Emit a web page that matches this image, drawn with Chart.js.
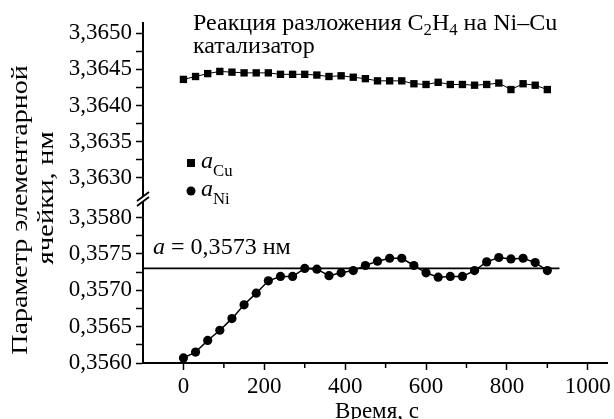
<!DOCTYPE html>
<html>
<head>
<meta charset="utf-8">
<script src="https://cdn.jsdelivr.net/npm/chart.js@4/dist/chart.umd.min.js"></script>
<style>
  html, body { margin: 0; padding: 0; background: #fff; }
  #wrap { width: 614px; height: 419px; }
</style>
</head>
<body>
<div id="wrap"><canvas id="c" width="614" height="419"></canvas></div>
<script>
// ---- data ----
const timeValues = [0,30,60,90,120,150,180,210,240,270,300,330,360,390,420,450,480,510,540,570,600,630,660,690,720,750,780,810,840,870,900];
const cuValues = [3.36436,3.36440,3.36444,3.36447,3.36446,3.36445,3.36445,3.36445,3.36443,3.36443,3.36443,3.36442,3.36440,3.36441,3.36439,3.36437,3.36434,3.36434,3.36434,3.36430,3.36429,3.36432,3.36429,3.36429,3.36428,3.36429,3.36431,3.36422,3.36430,3.36428,3.36422];
const niValues = [0.35607,0.35615,0.35631,0.35645,0.35661,0.35680,0.35696,0.35713,0.35719,0.35719,0.35730,0.35729,0.35720,0.35724,0.35727,0.35734,0.35740,0.35744,0.35744,0.35734,0.35724,0.35718,0.35719,0.35719,0.35727,0.35739,0.35745,0.35743,0.35744,0.35738,0.35727];
const refValue = 0.3573;
const refSpan = [-100, 930];

const xTicks = [0,200,400,600,800,1000];
const xTickLabels = ['0','200','400','600','800','1000'];
const xMinorTicks = [100,300,500,700,900];
const yCuTicks = [3.3630,3.3635,3.3640,3.3645,3.3650];
const yCuTickLabels = ['3,3630','3,3635','3,3640','3,3645','3,3650'];
const yCuMinorTicks = [3.36325,3.36375,3.36425,3.36475];
const yNiTicks = [0.3560,0.3565,0.3570,0.3575,0.3580];
const yNiTickLabels = ['0,3560','0,3565','0,3570','0,3575','3,3580'];
const yNiMinorTicks = [0.35625,0.35675,0.35725,0.35775];

const titleLine2 = 'катализатор';
const yTitle1 = 'Параметр элементарной';
const yTitle2 = 'ячейки, нм';
const xTitle = 'Время, с';

// ---- helpers ----
const FONT = '"Liberation Serif", "Times New Roman", serif';
const F = (s, style) => (style ? style + ' ' : '') + s + 'px ' + FONT;

function findLabel(v, ticks, labels) {
  for (let i = 0; i < ticks.length; i++) if (Math.abs(v - ticks[i]) < 1e-9) return labels[i];
  return '';
}
function setTicks(list) {
  return function (scale) { scale.ticks = list.slice().sort((a,b)=>a-b).map(v => ({ value: v })); };
}
function drawRuns(ctx, x, y, runs, sx) {
  ctx.save();
  ctx.translate(x, y);
  ctx.scale(sx || 1, 1);
  let cx = 0;
  for (const r of runs) {
    ctx.font = r.font;
    ctx.fillText(r.t, cx, r.dy || 0);
    cx += ctx.measureText(r.t).width;
  }
  ctx.restore();
}
function drawRotated(ctx, text, x, y, font, sx) {
  ctx.save();
  ctx.translate(x, y);
  ctx.rotate(-Math.PI / 2);
  ctx.scale(sx, 1);
  ctx.font = font;
  ctx.textAlign = 'center';
  ctx.fillText(text, 0, 0);
  ctx.restore();
}

const commonGrid = { display: true, drawOnChartArea: false, drawTicks: true, tickLength: 7, tickWidth: 1.5, tickColor: '#000' };
const commonBorder = { display: true, color: '#000', width: 2 };
const tickFont = { family: FONT, size: 23 };
const SX = 1.045;

const textPlugin = {
  id: 'texts',
  afterDraw(chart) {
    const ctx = chart.ctx;
    ctx.save();
    ctx.fillStyle = '#000';
    ctx.textAlign = 'left';
    ctx.textBaseline = 'alphabetic';
    // title
    drawRuns(ctx, 193, 30, [
      { t: 'Реакция разложения C', font: F(23) },
      { t: '2', font: F(16), dy: 5 },
      { t: 'H', font: F(23) },
      { t: '4', font: F(16), dy: 5 },
      { t: ' на Ni–Cu', font: F(23) }
    ], SX);
    drawRuns(ctx, 193, 53, [{ t: titleLine2, font: F(23) }], SX);
    // legend
    ctx.fillRect(187, 159, 8, 8);
    drawRuns(ctx, 201, 168, [{ t: 'a', font: F(23, 'italic') }, { t: 'Cu', font: F(16), dy: 8 }], SX);
    ctx.beginPath(); ctx.arc(191, 191, 4.5, 0, Math.PI * 2); ctx.fill();
    drawRuns(ctx, 201, 196, [{ t: 'a', font: F(23, 'italic') }, { t: 'Ni', font: F(16), dy: 8 }], SX);
    // reference label
    drawRuns(ctx, 153, 254, [{ t: 'a', font: F(23, 'italic') }, { t: ' = 0,3573 нм', font: F(23) }], SX);
    // x title
    ctx.font = F(23);
    ctx.textAlign = 'center';
    ctx.fillText(xTitle, 377, 418);
    ctx.textAlign = 'left';
    // y title
    drawRotated(ctx, yTitle1, 27, 210, F(23), 1.22);
    drawRotated(ctx, yTitle2, 53, 198, F(23), 1.25);
    // axis break
    const yb = chart.scales.yNi.top;
    const xa = chart.scales.yNi.right;
    ctx.fillStyle = '#fff';
    ctx.beginPath();
    ctx.moveTo(xa - 6, yb + 3); ctx.lineTo(xa + 6, yb - 6);
    ctx.lineTo(xa + 6, yb - 1); ctx.lineTo(xa - 6, yb + 8);
    ctx.closePath(); ctx.fill();
    ctx.strokeStyle = '#000'; ctx.lineWidth = 1.8;
    ctx.beginPath();
    ctx.moveTo(xa - 6, yb + 3); ctx.lineTo(xa + 6, yb - 6);
    ctx.moveTo(xa - 6, yb + 8); ctx.lineTo(xa + 6, yb - 1);
    ctx.stroke();
    // minor x ticks (shorter)
    const xs = chart.scales.x;
    ctx.lineWidth = 1.5;
    ctx.beginPath();
    for (const v of xMinorTicks) {
      const px = xs.getPixelForValue(v);
      ctx.moveTo(px, xs.top); ctx.lineTo(px, xs.top + 5);
    }
    ctx.stroke();
    ctx.restore();
  }
};

new Chart(document.getElementById('c'), {
  type: 'line',
  data: {
    datasets: [
      {
        label: 'ref',
        data: refSpan.map(x => ({ x, y: refValue })),
        yAxisID: 'yNi',
        borderColor: '#000', borderWidth: 1.6, pointRadius: 0, fill: false
      },
      {
        label: 'aCu',
        data: timeValues.map((x, i) => ({ x, y: cuValues[i] })),
        yAxisID: 'yCu',
        borderColor: '#000', borderWidth: 1, backgroundColor: '#000',
        pointStyle: 'rect', pointRadius: 5.2, pointBorderWidth: 0, fill: false, clip: false
      },
      {
        label: 'aNi',
        data: timeValues.map((x, i) => ({ x, y: niValues[i] })),
        yAxisID: 'yNi',
        borderColor: '#000', borderWidth: 1.5, backgroundColor: '#000',
        pointStyle: 'circle', pointRadius: 4.6, pointBorderWidth: 0, fill: false, clip: false
      }
    ]
  },
  options: {
    responsive: false,
    animation: false,
    layout: { padding: { top: 23, right: 5, left: 0, bottom: 0 } },
    plugins: { legend: { display: false }, tooltip: { enabled: false }, title: { display: false } },
    elements: { line: { tension: 0 } },
    scales: {
      x: {
        type: 'linear', position: 'bottom', min: -100, max: 1050,
        afterBuildTicks: setTicks(xTicks),
        afterFit(s) { s.height = 56; },
        ticks: { autoSkip: false, maxRotation: 0, padding: 3, color: '#000', font: tickFont,
                 callback: v => findLabel(v, xTicks, xTickLabels) },
        grid: commonGrid, border: commonBorder
      },
      yNi: {
        type: 'linear', position: 'left', stack: 'ybreak', stackWeight: 165,
        min: 0.3560, max: 0.358268, bounds: 'data',
        afterBuildTicks: setTicks(yNiTicks.concat(yNiMinorTicks)),
        afterFit(s) { s.width = 143; },
        ticks: { autoSkip: false, padding: 4, color: '#000', font: tickFont,
                 callback: v => findLabel(v, yNiTicks, yNiTickLabels) },
        grid: commonGrid, border: commonBorder
      },
      yCu: {
        type: 'linear', position: 'left', stack: 'ybreak', stackWeight: 175,
        min: 3.362724, max: 3.365138, bounds: 'data',
        afterBuildTicks: setTicks(yCuTicks.concat(yCuMinorTicks)),
        afterFit(s) { s.width = 143; },
        ticks: { autoSkip: false, padding: 4, color: '#000', font: tickFont,
                 callback: v => findLabel(v, yCuTicks, yCuTickLabels) },
        grid: commonGrid, border: commonBorder
      }
    }
  },
  plugins: [textPlugin]
});
</script>
</body>
</html>
